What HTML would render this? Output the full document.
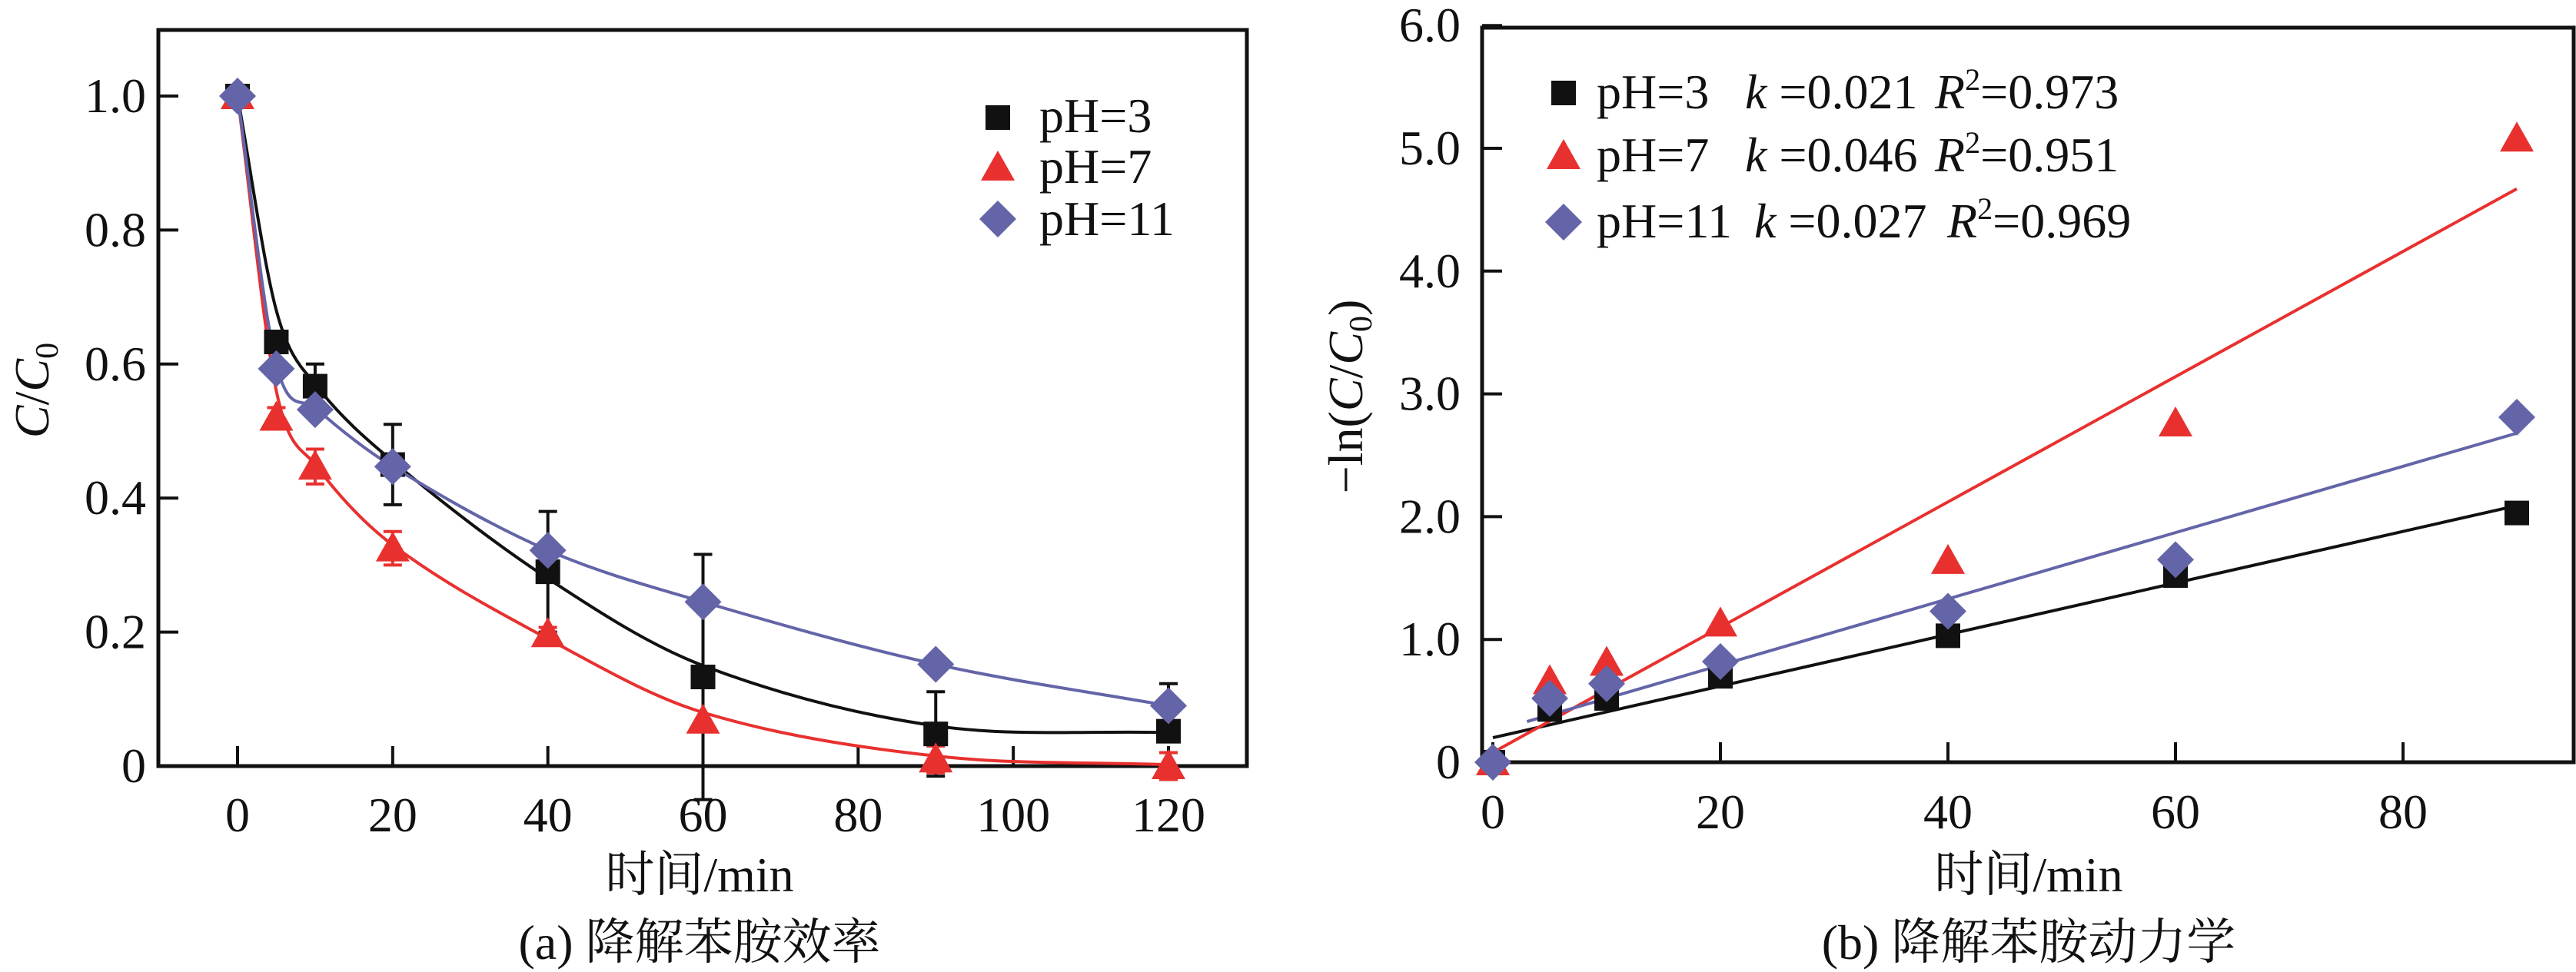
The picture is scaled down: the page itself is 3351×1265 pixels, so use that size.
<!DOCTYPE html>
<html><head><meta charset="utf-8"><style>
body{margin:0;background:#fff}
svg{display:block}
text{font-family:"Liberation Serif","Noto Serif CJK SC",serif;fill:#111}
</style></head><body>
<svg id="c" width="3351" height="1265" xmlns="http://www.w3.org/2000/svg"></svg>
<script>
// ---- chart (a) data
const timesA=[0,5,10,20,40,60,90,120];
const ph3A=[1.0,0.633,0.567,0.45,0.29,0.133,0.048,0.052];
const ph7A=[1.0,0.52,0.447,0.325,0.197,0.068,0.01,0.0];
const ph11A=[1.0,0.593,0.532,0.447,0.322,0.245,0.152,0.09];
const ph3Fit=[1.0,0.68,0.57,0.455,0.28,0.15,0.06,0.05];
const ph7Fit=[1.0,0.56,0.45,0.33,0.19,0.08,0.015,0.002];
const ph11Fit=[1.0,0.6,0.535,0.447,0.322,0.245,0.152,0.09];
const ph3Err=[0,0,0.033,0.06,0.09,0.183,0.063,0];
const ph7Err=[0,0.015,0.026,0.025,0.01,0,0.02,0.02];
const ph11Err=[0,0,0,0,0,0,0,0.033];
const yTicksA=[0,0.2,0.4,0.6,0.8,1.0];
const yTickLabelsA=["0","0.2","0.4","0.6","0.8","1.0"];
const xTicksA=[0,20,40,60,80,100,120];
// ---- chart (b) data
const timesB=[0,5,10,20,40,60,90];
const ph3B=[0,0.43,0.52,0.7,1.03,1.52,2.03];
const ph7B=[0,0.66,0.81,1.13,1.64,2.76,5.08];
const ph11B=[0,0.52,0.64,0.82,1.23,1.65,2.81];
const slopes=[0.021,0.051,0.027];
const intercepts=[0.2,0.08,0.25];
const yTicksB=[0,1,2,3,4,5,6];
const yTickLabelsB=["0","1.0","2.0","3.0","4.0","5.0","6.0"];
const xTicksB=[0,20,40,60,80];

const NS="http://www.w3.org/2000/svg";
const svg=document.getElementById('c');
function el(tag,attrs,parent){const e=document.createElementNS(NS,tag);for(const k in attrs)e.setAttribute(k,attrs[k]);(parent||svg).appendChild(e);return e;}
const RED="#e8312f",BLUE="#6464a8",BLK="#111";

const xA=v=>309+v*(1520-309)/120, yA=v=>997-v*872;
const xB=v=>1942+v*14.8, yB=v=>992-v*159.8;

function marker(type,x,y,name){
  let m;
  if(type==='sq') m=el('rect',{x:x-16,y:y-16,width:32,height:32,fill:BLK});
  else if(type==='tri') m=el('polygon',{points:`${x},${y-22} ${x+22},${y+17} ${x-22},${y+17}`,fill:RED});
  else m=el('polygon',{points:`${x},${y-24} ${x+24},${y} ${x},${y+24} ${x-24},${y}`,fill:BLUE});
  
  
  return m;
}
function smooth(pts){
  const n=pts.length,m=[];
  for(let i=0;i<n;i++){
    const a=pts[Math.max(0,i-1)],b=pts[Math.min(n-1,i+1)];
    m.push((b[1]-a[1])/(b[0]-a[0]));
  }
  let d=`M${pts[0][0]},${pts[0][1]}`;
  for(let i=0;i<n-1;i++){
    const p1=pts[i],p2=pts[i+1],dx=(p2[0]-p1[0])/3;
    d+=` C${p1[0]+dx},${p1[1]+m[i]*dx} ${p2[0]-dx},${p2[1]-m[i+1]*dx} ${p2[0]},${p2[1]}`;
  }
  return d;
}
function txt(s,x,y,size,anchor,name,extra){
  const t=el('text',Object.assign({x:x,y:y,'font-size':size,'text-anchor':anchor||'middle'},extra||{}));
  t.textContent=s;
  
  
  return t;
}

// ===== Chart A
const fa=el('rect',{x:206,y:39,width:1416,height:958,fill:'none',stroke:BLK,'stroke-width':5});


yTicksA.forEach((v,i)=>{
  el('line',{x1:206,x2:232,y1:yA(v),y2:yA(v),stroke:BLK,'stroke-width':4});
  txt(yTickLabelsA[i],190,yA(v)+21,64,'end','y-tick-label-a');
});
xTicksA.forEach(v=>{
  el('line',{x1:xA(v),x2:xA(v),y1:997,y2:971,stroke:BLK,'stroke-width':4});
  txt(String(v),xA(v),1082,64,'middle','x-tick-label-a');
});
[[ph3Fit,BLK,'fit-ph3-a'],[ph7Fit,RED,'fit-ph7-a'],[ph11Fit,BLUE,'fit-ph11-a']].forEach(([arr,c,n])=>{
  const p=el('path',{d:smooth(timesA.map((t,i)=>[xA(t),yA(arr[i])])),fill:'none',stroke:c,'stroke-width':4});
  
  
});
function errbars(vals,errs,c){
  timesA.forEach((t,i)=>{ if(!errs[i])return;
    const x=xA(t),y1=yA(vals[i]+errs[i]),y2=yA(vals[i]-errs[i]);
    el('line',{x1:x,x2:x,y1:y1,y2:y2,stroke:c,'stroke-width':4});
    el('line',{x1:x-12,x2:x+12,y1:y1,y2:y1,stroke:c,'stroke-width':4});
    el('line',{x1:x-12,x2:x+12,y1:y2,y2:y2,stroke:c,'stroke-width':4});
  });
}
errbars(ph3A,ph3Err,BLK);errbars(ph7A,ph7Err,RED);errbars(ph11A,ph11Err,BLK);
timesA.forEach((t,i)=>marker('sq',xA(t),yA(ph3A[i]),'point-ph3-a'));
timesA.forEach((t,i)=>marker('tri',xA(t),yA(ph7A[i]),'point-ph7-a'));
timesA.forEach((t,i)=>marker('dia',xA(t),yA(ph11A[i]),'point-ph11-a'));
marker('sq',1298,153,'legend-marker-ph3-a');txt('pH=3',1352,172,64,'start','legend-label-ph3-a');
marker('tri',1298,218,'legend-marker-ph7-a');txt('pH=7',1352,238,64,'start','legend-label-ph7-a');
marker('dia',1298,285,'legend-marker-ph11-a');txt('pH=11',1352,306,64,'start','legend-label-ph11-a');
const ya=txt('',43,508,64,'middle','y-axis-title-a',{transform:'rotate(-90 43 508)'});
ya.setAttribute('dy','20');
ya.innerHTML='<tspan font-style="italic">C</tspan>/<tspan font-style="italic">C</tspan><tspan font-size="42" dy="12">0</tspan>';
txt('时间/min',910,1160,64,'middle','x-axis-title-a');
txt('(a) 降解苯胺效率',910,1248,64,'middle','caption-a');

// ===== Chart B
const fb=el('rect',{x:1928,y:36,width:1420,height:956,fill:'none',stroke:BLK,'stroke-width':5});


yTicksB.forEach((v,i)=>{
  el('line',{x1:1928,x2:1954,y1:yB(v),y2:yB(v),stroke:BLK,'stroke-width':4});
  txt(yTickLabelsB[i],1900,yB(v)+21,64,'end','y-tick-label-b');
});
xTicksB.forEach(v=>{
  el('line',{x1:xB(v),x2:xB(v),y1:992,y2:966,stroke:BLK,'stroke-width':4});
  txt(String(v),xB(v),1078,64,'middle','x-tick-label-b');
});
[[BLK,0,'fit-ph3-b'],[RED,1,'fit-ph7-b'],[BLUE,2,'fit-ph11-b']].forEach(([c,k,n])=>{
  const x0=k===2?3:0;
  const l=el('line',{x1:xB(x0),y1:yB(intercepts[k]+slopes[k]*x0),x2:xB(90),y2:yB(intercepts[k]+slopes[k]*90),stroke:c,'stroke-width':4});
  
  
});
timesB.forEach((t,i)=>marker('sq',xB(t),yB(ph3B[i]),'point-ph3-b'));
timesB.forEach((t,i)=>marker('tri',xB(t),yB(ph7B[i]),'point-ph7-b'));
timesB.forEach((t,i)=>marker('dia',xB(t),yB(ph11B[i]),'point-ph11-b'));
function legB(type,y,ph,kx,k,rx,r,n){
  marker(type,2034,y,'legend-marker-'+n);
  txt(ph,2077,y+20,64,'start','legend-label-'+n);
  const t1=txt('',kx,y+20,64,'start','legend-k-'+n);
  t1.innerHTML='<tspan font-style="italic">k</tspan> =' + k;
  const t2=txt('',rx,y+20,64,'start','legend-r2-'+n);
  t2.innerHTML='<tspan font-style="italic">R</tspan><tspan font-size="40" dy="-24">2</tspan><tspan dy="24">=' + r + '</tspan>';
}
legB('sq',121,'pH=3',2270,'0.021',2517,'0.973','ph3-b');
legB('tri',203,'pH=7',2270,'0.046',2517,'0.951','ph7-b');
legB('dia',289,'pH=11',2282,'0.027',2533,'0.969','ph11-b');
const yb=txt('',1752,516,64,'middle','y-axis-title-b',{transform:'rotate(-90 1752 516)'});
yb.setAttribute('dy','20');
yb.innerHTML='−ln(<tspan font-style="italic">C</tspan>/<tspan font-style="italic">C</tspan><tspan font-size="42" dy="12">0</tspan><tspan dy="-12">)</tspan>';
txt('时间/min',2639,1160,64,'middle','x-axis-title-b');
txt('(b) 降解苯胺动力学',2639,1248,64,'middle','caption-b');
</script>
</body></html>
